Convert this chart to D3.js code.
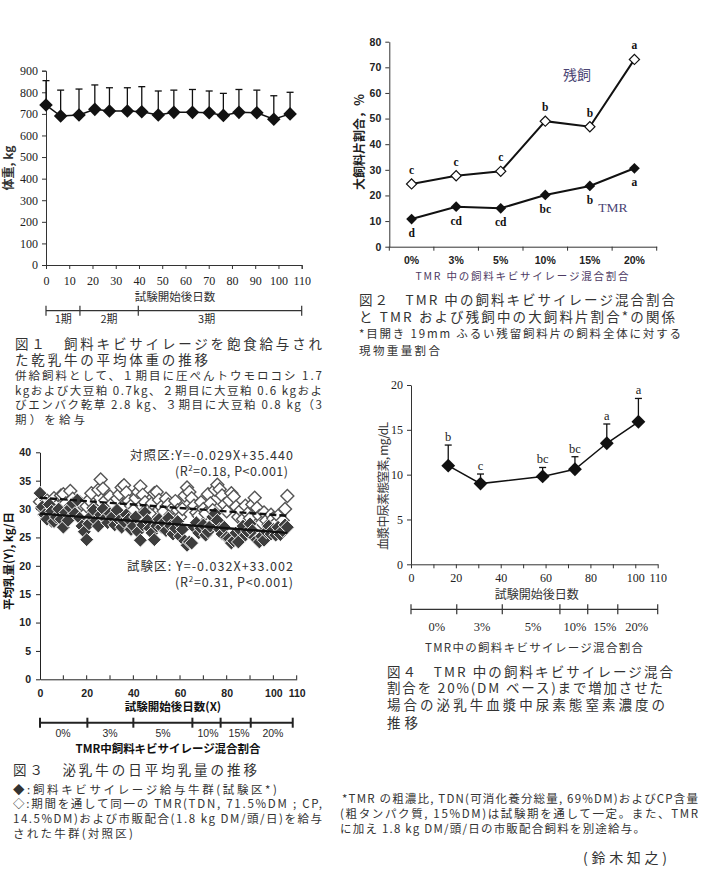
<!DOCTYPE html>
<html><head><meta charset="utf-8">
<script src="https://cdn.jsdelivr.net/npm/d3@7"></script>
<style>body{margin:0;background:#fff}</style>
</head><body><svg id="c" width="705" height="869"></svg>
<script>
// ---------- DATA ----------
// Fig 1: body weight of dry cows
const fig1Days = [0,6.3,14.2,21,27.3,35,41.2,48.3,55,63,70.2,76.3,83,90.7,98,105];
const fig1Weight = [741,690,695,721,713,713,710,695,707,707,705,693,707,705,675,700];
const fig1SD = [113,120,120,113,108,108,116,111,103,106,101,102,106,105,109,100];
const fig1Ticks = [0,100,200,300,400,500,600,700,800,900];
const fig1PeriodBounds = [0,14.6,39.7,110];
const fig1PeriodLabels = ["1期","2期","3期"];
const fig1PeriodLabelDays = [7.4,27.1,69.1];

// Fig 2: large particle ratio
const fig2Cats = ["0%","3%","5%","10%","15%","20%"];
const fig2Residue = [24.5,27.7,29.4,49.0,46.8,73.1];
const fig2TMR = [10.8,15.6,15.0,20.2,23.7,30.6];
const fig2ResidueLetters = ["c","c","c","b","b","a"];
const fig2TMRLetters = ["d","cd","cd","bc","b","a"];
const fig2Ticks = [0,10,20,30,40,50,60,70,80];

// Fig 3: daily milk yield
const fig3Days = d3.range(0,107);
const fig3Control = [31.3,30.2,29.0,31.5,30.8,28.0,31.9,30.5,29.6,32.4,32.6,31.0,30.0,33.2,31.8,30.4,29.5,31.2,30.8,29.0,
30.5,31.6,32.8,30.2,29.8,33.4,35.2,33.6,31.5,30.0,32.2,31.0,29.4,31.8,32.6,33.8,34.2,32.9,31.4,30.6,
29.8,31.9,33.0,34.0,32.5,31.2,30.0,29.2,31.0,32.8,33.0,31.6,30.4,29.6,31.8,30.8,29.0,30.2,31.4,29.8,
28.6,30.0,32.4,33.8,33.0,31.9,30.6,29.4,28.8,31.2,30.0,29.2,32.6,31.0,29.8,33.4,34.3,33.5,32.4,30.8,
29.6,31.5,32.8,32.2,30.4,28.6,29.8,28.2,30.6,29.2,28.4,30.8,32.0,30.2,28.8,27.6,29.4,28.0,27.2,29.0,
28.4,27.5,28.8,27.0,28.0,30.0,32.3];
const fig3Test = [32.8,30.4,29.0,28.2,30.8,29.6,27.8,28.6,30.0,28.2,26.8,29.4,28.0,30.2,31.0,29.2,31.6,28.4,27.0,26.0,
24.6,27.4,28.8,29.8,28.0,27.0,29.0,30.0,28.4,27.6,29.2,28.6,27.2,29.8,28.0,26.8,27.8,29.0,28.2,26.4,
27.0,28.6,26.0,24.5,27.2,29.4,28.0,26.6,25.8,24.6,27.0,28.2,26.8,27.6,26.2,28.4,27.0,25.6,26.6,27.8,
25.2,26.4,24.4,23.6,24.2,24.0,26.8,27.6,25.8,26.6,27.2,25.4,26.0,27.0,28.6,29.2,28.0,26.4,25.6,26.8,
25.0,24.8,24.0,24.4,25.8,24.2,26.2,27.0,25.4,26.0,27.4,26.2,25.0,24.6,24.2,25.2,24.5,26.0,27.0,25.6,
26.4,25.4,26.8,25.5,26.2,27.2,26.8];
const fig3FitDays = [0,106];
const fig3ControlFit = [32.0,28.8];
const fig3TestFit = [29.2,25.8];
const fig3YTicks = [0,5,10,15,20,25,30,35,40];
const fig3XTicks = [0,20,40,60,80,100,110];
const fig3PeriodBounds = [0,20.3,40,65.3,77.4,90.3,108.3];
const fig3PeriodLabels = ["0%","3%","5%","10%","15%","20%"];
const fig3PeriodLabelDays = [9.9,30.0,52.7,72.0,85.3,99.8];

// Fig 4: plasma urea nitrogen
const fig4Days = [16.6,31.0,58.7,73.1,87.3,101.4];
const fig4PUN = [11.0,9.0,9.8,10.6,13.5,15.9];
const fig4SD = [2.3,1.07,1.0,1.4,2.15,2.6];
const fig4Letters = ["b","c","bc","bc","a","a"];
const fig4YTicks = [0,5,10,15,20];
const fig4XTicks = [0,20,40,60,80,100,110];
const fig4PeriodBounds = [0,20.4,40.7,66.4,78.8,92.2,110];
const fig4PeriodLabels = ["0%","3%","5%","10%","15%","20%"];
const fig4PeriodLabelDays = [11.5,31.7,54.4,73.1,86.5,100.6];

// ---------- HELPERS ----------
const svg = d3.select("#c");
svg.append("rect").attr("width",705).attr("height",869).attr("fill","#fff");
const JP = "'Noto Sans CJK JP', sans-serif";
const SERIF = "'Liberation Serif', serif";
const SANS = "'Liberation Sans', Arial, sans-serif";
function txt(x,y,s,o={}){
  const t = svg.append("text").attr("x",x).attr("y",y)
    .attr("font-family",o.ff||JP).attr("font-size",o.fs||12)
    .attr("font-weight",o.fw||"normal").attr("fill",o.fill||"#2a2a2a")
    .attr("text-anchor",o.anchor||"start").text(s);
  if(o.ls) t.attr("letter-spacing",o.ls);
  if(o.len){ t.attr("textLength",o.len).attr("lengthAdjust",o.adj||"spacing"); }
  if(o.rot) t.attr("transform",`rotate(-90,${x},${y})`);
  return t;
}
const diamond = s => d3.symbol().type(d3.symbolSquare).size(s)();
function styleAxis(g, col, fam, fs, fw){
  g.selectAll("path,line").attr("stroke",col).attr("stroke-width",1);
  g.selectAll("text").attr("font-family",fam).attr("font-size",fs).attr("font-weight",fw).attr("fill","#222");
}
function periodBar(x, bounds, yPos, labels, labelDays, labelY, opts){
  const g = svg.append("g");
  g.append("line").attr("x1",x(bounds[0])).attr("x2",x(bounds[bounds.length-1]))
    .attr("y1",yPos).attr("y2",yPos).attr("stroke",opts.col||"#333").attr("stroke-width",opts.sw||1.2);
  g.selectAll(".pt").data(bounds).join("line")
    .attr("x1",d=>x(d)).attr("x2",d=>x(d)).attr("y1",yPos-opts.tk).attr("y2",yPos+opts.tk)
    .attr("stroke",opts.col||"#333").attr("stroke-width",opts.sw||1.2);
  labels.forEach((l,i)=>txt(x(labelDays[i]),labelY,l,{anchor:"middle",ff:opts.ff,fs:opts.fs,fw:opts.fw}));
}

// ---------- FIG 1 ----------
{
  const x = d3.scaleLinear().domain([0,110]).range([46,301.7]);
  const y = d3.scaleLinear().domain([0,900]).range([265,70.7]);
  const gx = svg.append("g").attr("transform","translate(0,265)")
    .call(d3.axisBottom(x).tickValues(d3.range(0,111,10)).tickSizeOuter(0).tickSize(4).tickPadding(7));
  styleAxis(gx,"#333",SERIF,12,"normal");
  const gy = svg.append("g").attr("transform","translate(46,0)")
    .call(d3.axisLeft(y).tickValues(fig1Ticks).tickSizeOuter(0).tickSize(4).tickPadding(4));
  styleAxis(gy,"#333",SERIF,12,"normal");
  const g = svg.append("g");
  g.selectAll(".eb").data(fig1Days).join("line")
    .attr("x1",(d)=>x(d)).attr("x2",d=>x(d))
    .attr("y1",(d,i)=>y(fig1Weight[i])).attr("y2",(d,i)=>y(fig1Weight[i]+fig1SD[i]))
    .attr("stroke","#111").attr("stroke-width",1.3);
  g.selectAll(".ec").data(fig1Days).join("line")
    .attr("x1",(d)=>x(d)-3.5).attr("x2",d=>x(d)+3.5)
    .attr("y1",(d,i)=>y(fig1Weight[i]+fig1SD[i])).attr("y2",(d,i)=>y(fig1Weight[i]+fig1SD[i]))
    .attr("stroke","#111").attr("stroke-width",1.3);
  g.append("path").attr("d",d3.line().x((d)=>x(d)).y((d,i)=>y(fig1Weight[i]))(fig1Days))
    .attr("fill","none").attr("stroke","#111").attr("stroke-width",1.5);
  g.selectAll(".pt").data(fig1Days).join("path")
    .attr("d",diamond(92)).attr("transform",(d,i)=>`translate(${x(d)},${y(fig1Weight[i])}) rotate(45)`)
    .attr("fill","#111");
  txt(175,301,"試験開始後日数",{anchor:"middle",fs:11.5,fill:"#333"});
  txt(13,168,"体重, kg",{anchor:"middle",fs:12,fw:"bold",rot:true,fill:"#333"});
  periodBar(x,fig1PeriodBounds,310.7,fig1PeriodLabels,fig1PeriodLabelDays,323,{tk:5,fs:11,ff:JP});
}

// ---------- FIG 2 ----------
{
  const x = d3.scaleBand().domain(fig2Cats).range([389.3,656.7]);
  const y = d3.scaleLinear().domain([0,80]).range([246.7,41.7]);
  const gx = svg.append("g").attr("transform","translate(0,246.7)")
    .call(d3.axisBottom(x).tickSize(0).tickPadding(10).tickSizeOuter(0));
  styleAxis(gx,"#333",SANS,10.5,"bold");
  gx.selectAll(".bt").data(d3.range(0,7)).join("line")
    .attr("x1",i=>389.3+i*x.step()).attr("x2",i=>389.3+i*x.step()).attr("y1",0).attr("y2",4)
    .attr("stroke","#333");
  const gy = svg.append("g").attr("transform","translate(389.3,0)")
    .call(d3.axisLeft(y).tickValues(fig2Ticks).tickSize(4).tickSizeOuter(0).tickPadding(4));
  styleAxis(gy,"#333",SANS,10.5,"bold");
  const cx = c => x(c)+x.bandwidth()/2;
  const line = arr => d3.line().x(d=>cx(d)).y((d,i)=>y(arr[i]))(fig2Cats);
  svg.append("path").attr("d",line(fig2Residue)).attr("fill","none").attr("stroke","#111").attr("stroke-width",2);
  svg.append("path").attr("d",line(fig2TMR)).attr("fill","none").attr("stroke","#111").attr("stroke-width",2);
  svg.selectAll(".r2").data(fig2Cats).join("path").attr("d",diamond(52))
    .attr("transform",(d,i)=>`translate(${cx(d)},${y(fig2Residue[i])}) rotate(45)`)
    .attr("fill","#fff").attr("stroke","#111").attr("stroke-width",1.2);
  svg.selectAll(".t2").data(fig2Cats).join("path").attr("d",diamond(58))
    .attr("transform",(d,i)=>`translate(${cx(d)},${y(fig2TMR[i])}) rotate(45)`)
    .attr("fill","#111");
  fig2Cats.forEach((c,i)=>{
    txt(cx(c),y(fig2Residue[i])-10,fig2ResidueLetters[i],{anchor:"middle",ff:SERIF,fw:"bold",fs:11.5,fill:"#111"});
    txt(cx(c),y(fig2TMR[i])+18,fig2TMRLetters[i],{anchor:"middle",ff:SERIF,fw:"bold",fs:11.5,fill:"#111"});
  });
  txt(577,80,"残飼",{anchor:"middle",fs:14,fill:"#4b4574"});
  txt(613,212,"TMR",{anchor:"middle",ff:SERIF,fs:13.5,fill:"#4b4574"});
  txt(364,142,"大飼料片割合，％",{anchor:"middle",fs:12,fw:"bold",rot:true,fill:"#222"});
  txt(522,280,"TMR 中の飼料キビサイレージ混合割合",{anchor:"middle",fs:10.5,fill:"#4d3a63",len:213});
}

// ---------- FIG 3 ----------
{
  const x = d3.scaleLinear().domain([0,110]).range([40,296.7]);
  const y = d3.scaleLinear().domain([0,40]).range([679.3,452.3]);
  const gx = svg.append("g").attr("transform","translate(0,679.3)")
    .call(d3.axisBottom(x).tickValues(fig3XTicks).tickSize(0).tickPadding(10).tickSizeOuter(0));
  styleAxis(gx,"#222",SANS,10.5,"bold");
  gx.selectAll(".mt").data(d3.range(10,111,10)).join("line")
    .attr("x1",d=>x(d)).attr("x2",d=>x(d)).attr("y1",0).attr("y2",-4).attr("stroke","#222");
  const gy = svg.append("g").attr("transform","translate(40,0)")
    .call(d3.axisLeft(y).tickValues(fig3YTicks).tickSize(4).tickSizeOuter(0).tickPadding(5));
  styleAxis(gy,"#222",SANS,10.5,"bold");
  svg.selectAll(".f3c").data(fig3Days).join("path").attr("d",diamond(84))
    .attr("transform",(d,i)=>`translate(${x(d)},${y(fig3Control[i])}) rotate(45)`)
    .attr("fill","#fff").attr("stroke","#555").attr("stroke-width",1.4);
  svg.selectAll(".f3t").data(fig3Days).join("path").attr("d",diamond(96))
    .attr("transform",(d,i)=>`translate(${x(d)},${y(fig3Test[i])}) rotate(45)`)
    .attr("fill","#3d3d3d").attr("stroke","#fff").attr("stroke-width",0.9);
  const fit = arr => d3.line().x(d=>x(d)).y((d,i)=>y(arr[i]))(fig3FitDays);
  svg.append("path").attr("d",fit(fig3ControlFit)).attr("stroke","#111").attr("stroke-width",2.4)
    .attr("stroke-dasharray","7,3").attr("fill","none");
  svg.append("path").attr("d",fit(fig3TestFit)).attr("stroke","#111").attr("stroke-width",2.4).attr("fill","none");
  txt(293,459.5,"対照区:Y=-0.029X+35.440",{anchor:"end",fs:12.5,len:163,fill:"#333"});
  const r1 = txt(288,475.5,"",{anchor:"end",fs:12.5,fill:"#333",len:113});
  r1.append("tspan").text("(R");
  r1.append("tspan").text("2").attr("font-size",8).attr("dy",-5);
  r1.append("tspan").text("=0.18, P<0.001)").attr("dy",5);
  txt(293,570.5,"試験区: Y=-0.032X+33.002",{anchor:"end",fs:12.5,len:166,fill:"#333"});
  const r2 = txt(293,586.5,"",{anchor:"end",fs:12.5,fill:"#333",len:118});
  r2.append("tspan").text("(R");
  r2.append("tspan").text("2").attr("font-size",8).attr("dy",-5);
  r2.append("tspan").text("=0.31, P<0.001)").attr("dy",5);
  txt(173,711,"試験開始後日数(X)",{anchor:"middle",fs:11.5,fw:"bold",fill:"#111"});
  txt(13,561,"平均乳量(Y), kg/日",{anchor:"middle",fs:11.5,fw:"bold",rot:true,fill:"#111"});
  periodBar(x,fig3PeriodBounds,722.7,fig3PeriodLabels,fig3PeriodLabelDays,737,{tk:5,sw:2,col:"#222",ff:SANS,fs:10.5});
  txt(168,753,"TMR中飼料キビサイレージ混合割合",{anchor:"middle",fs:11.5,fw:"bold",fill:"#111",len:185});
}

// ---------- FIG 4 ----------
{
  const x = d3.scaleLinear().domain([0,110]).range([411,657.7]);
  const y = d3.scaleLinear().domain([0,20]).range([564.3,385]);
  const gx = svg.append("g").attr("transform","translate(0,564.3)")
    .call(d3.axisBottom(x).tickValues(d3.range(0,111,10)).tickSize(4).tickPadding(5).tickSizeOuter(0)
      .tickFormat(d=>fig4XTicks.includes(d)?d:""));
  styleAxis(gx,"#333",SERIF,12,"normal");
  const gy = svg.append("g").attr("transform","translate(411,0)")
    .call(d3.axisLeft(y).tickValues(fig4YTicks).tickSize(4).tickSizeOuter(0).tickPadding(4));
  styleAxis(gy,"#333",SERIF,12,"normal");
  svg.selectAll(".e4").data(fig4Days).join("line")
    .attr("x1",d=>x(d)).attr("x2",d=>x(d)).attr("y1",(d,i)=>y(fig4PUN[i])).attr("y2",(d,i)=>y(fig4PUN[i]+fig4SD[i]))
    .attr("stroke","#111").attr("stroke-width",1.3);
  svg.selectAll(".c4").data(fig4Days).join("line")
    .attr("x1",d=>x(d)-3.5).attr("x2",d=>x(d)+3.5).attr("y1",(d,i)=>y(fig4PUN[i]+fig4SD[i])).attr("y2",(d,i)=>y(fig4PUN[i]+fig4SD[i]))
    .attr("stroke","#111").attr("stroke-width",1.3);
  svg.append("path").attr("d",d3.line().x(d=>x(d)).y((d,i)=>y(fig4PUN[i]))(fig4Days))
    .attr("fill","none").attr("stroke","#111").attr("stroke-width",1.5);
  svg.selectAll(".p4").data(fig4Days).join("path").attr("d",diamond(96))
    .attr("transform",(d,i)=>`translate(${x(d)},${y(fig4PUN[i])}) rotate(45)`).attr("fill","#111");
  fig4Days.forEach((d,i)=>txt(x(d),y(fig4PUN[i]+fig4SD[i])-4,fig4Letters[i],{anchor:"middle",ff:SERIF,fs:12.5,fill:"#222"}));
  txt(536.7,599,"試験開始後日数",{anchor:"middle",fs:12,fill:"#333"});
  txt(388,486,"血漿中尿素態窒素, mg/dL",{anchor:"middle",fs:12,rot:true,fill:"#333",len:128});
  periodBar(x,fig4PeriodBounds,609.3,fig4PeriodLabels,fig4PeriodLabelDays,631,{tk:5,ff:SERIF,fs:12.5});
  txt(534,651.5,"TMR中の飼料キビサイレージ混合割合",{anchor:"middle",fs:11.5,fill:"#333",len:218});
}

// ---------- CAPTIONS ----------
const cap = "#333";
const TF = 13.5;
// Fig 1
txt(15,348.5,"図１　飼料キビサイレージを飽食給与され",{fs:TF,len:307,fill:cap});
txt(15,364.5,"た乾乳牛の平均体重の推移",{fs:TF,len:193,fill:cap});
txt(15,379.5,"併給飼料として、１期目に圧ぺんトウモロコシ 1.7",{fs:11.5,len:307,fill:cap});
txt(15,394.5,"kgおよび大豆粕 0.7kg、２期目に大豆粕 0.6 kgおよ",{fs:11.5,len:307,fill:cap});
txt(15,408.5,"びエンバク乾草 2.8 kg、３期目に大豆粕 0.8 kg（3",{fs:11.5,len:307,fill:cap});
txt(15,423.5,"期）を給与",{fs:11.5,len:70,fill:cap});
// Fig 2
txt(359,305,"図２　TMR 中の飼料キビサイレージ混合割合",{fs:TF,len:316,fill:cap});
txt(359,321.5,"と TMR および残飼中の大飼料片割合*の関係",{fs:TF,len:316,fill:cap});
txt(359,337.5,"*目開き 19mm ふるい残留飼料片の飼料全体に対する",{fs:11.5,len:322,fill:cap});
txt(359,354.5,"現物重量割合",{fs:11.5,len:81,fill:cap});
// Fig 3
txt(13,775,"図３　泌乳牛の日平均乳量の推移",{fs:TF,len:244,fill:cap});
txt(13,793.5,"◆:飼料キビサイレージ給与牛群(試験区*)",{fs:11.5,len:264,fill:cap});
txt(13,807.5,"◇:期間を通して同一の TMR(TDN, 71.5%DM ; CP,",{fs:11.5,len:309,fill:cap});
txt(13,822.5,"14.5%DM)および市販配合(1.8 kg DM/頭/日)を給与",{fs:11.5,len:309,fill:cap});
txt(13,837.5,"された牛群(対照区)",{fs:11.5,len:120,fill:cap});
// Fig 4
txt(387,676.5,"図４　TMR 中の飼料キビサイレージ混合",{fs:TF,len:286,fill:cap});
txt(387,693,"割合を 20%(DM ベース)まで増加させた",{fs:TF,len:276,fill:cap});
txt(387,710,"場合の泌乳牛血漿中尿素態窒素濃度の",{fs:TF,len:278,fill:cap});
txt(387,727.5,"推移",{fs:TF,len:31,fill:cap});
// footnote
txt(342,802.5,"*TMR の粗濃比, TDN(可消化養分総量, 69%DM)およびCP含量",{fs:11.5,len:356,fill:cap});
txt(340,817.5,"(粗タンパク質, 15%DM)は試験期を通して一定。また、TMR",{fs:11.5,len:358,fill:cap});
txt(340,832.5,"に加え 1.8 kg DM/頭/日の市販配合飼料を別途給与。",{fs:11.5,len:305,fill:cap});
txt(583,863,"(鈴木知之)",{fs:14,len:84,fill:cap});
</script></body></html>
